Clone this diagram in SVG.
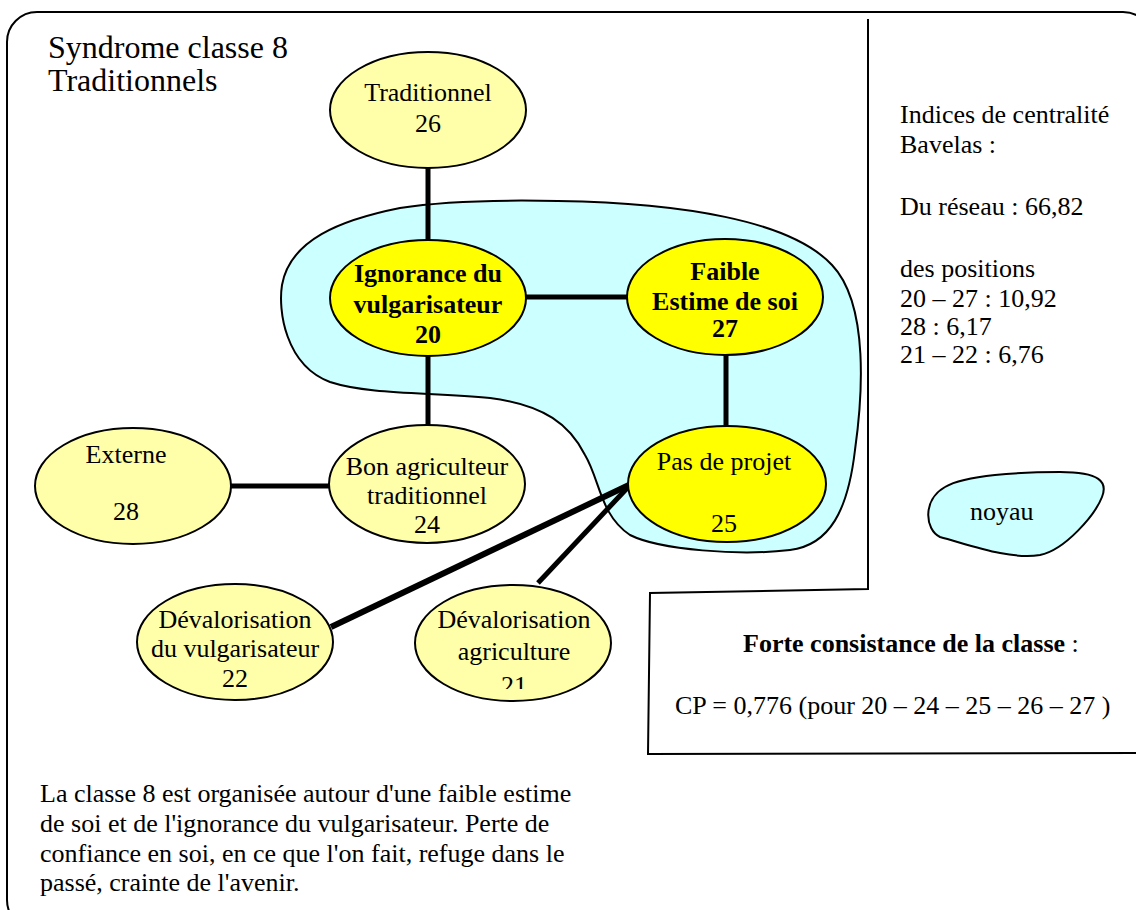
<svg xmlns="http://www.w3.org/2000/svg" width="1136" height="910" viewBox="0 0 1136 910">
<defs>
<style>
text{font-family:"Liberation Serif","Times New Roman",serif;font-size:26px;fill:#000}
.t{text-anchor:middle}
.b{font-weight:bold}
.pale{fill:#FFFFAA;stroke:#000;stroke-width:2}
.core{fill:#FFFF00;stroke:#000;stroke-width:2}
.edge{stroke:#000;stroke-width:5;fill:none}
.blob{fill:#CCFFFF;stroke:#000;stroke-width:2}
</style>
<clipPath id="clip21"><rect x="400" y="560" width="240" height="129"/></clipPath>
</defs>
<rect width="1136" height="910" fill="#fff"/>
<rect x="7" y="12" width="1146" height="918" rx="30" ry="30" fill="none" stroke="#000" stroke-width="2"/>
<polyline points="868,19 868,589 650,593 648,754 1140,753" fill="none" stroke="#000" stroke-width="2"/>

<g id="title">
<text x="48" y="58" style="font-size:32px">Syndrome classe 8</text>
<text x="48" y="91" style="font-size:32px">Traditionnels</text>
</g>

<g id="noyau-zone">
<path class="blob" d="M 558,201 C 680,203 790,220 832,265 C 870,305 862,400 855,450 C 848,510 830,545 790,550 C 740,556 660,550 630,535 C 600,515 600,480 585,455 C 570,425 545,405 490,398 C 430,392 370,395 330,382 C 285,365 278,310 282,285 C 290,240 340,220 400,208 C 450,200 510,200 558,201 Z"/>
</g>

<g id="connectors">
<line class="edge" x1="428" y1="168" x2="428" y2="240"/>
<line class="edge" x1="526" y1="297" x2="627" y2="297"/>
<line class="edge" x1="428" y1="356" x2="428" y2="426"/>
<line class="edge" x1="726" y1="355" x2="726" y2="426"/>
<line class="edge" x1="231" y1="486" x2="330" y2="486"/>
<line class="edge" x1="631" y1="484" x2="331" y2="627" style="stroke-width:6"/>
<line class="edge" x1="631" y1="484" x2="538" y2="583"/>
</g>

<g id="node26">
<ellipse class="pale" cx="428" cy="110" rx="98" ry="58"/>
<text class="t" x="428" y="101">Traditionnel</text>
<text class="t" x="428" y="132">26</text>
</g>
<g id="node20">
<ellipse class="core" cx="428" cy="298" rx="98" ry="58"/>
<text class="t b" x="428" y="282">Ignorance du</text>
<text class="t b" x="428" y="313">vulgarisateur</text>
<text class="t b" x="428" y="343">20</text>
</g>
<g id="node27">
<ellipse class="core" cx="725" cy="297" rx="98" ry="58"/>
<text class="t b" x="725" y="280">Faible</text>
<text class="t b" x="725" y="310">Estime de soi</text>
<text class="t b" x="725" y="337">27</text>
</g>
<g id="node25">
<ellipse class="core" cx="727" cy="484" rx="99" ry="58"/>
<text class="t" x="724" y="470">Pas de projet</text>
<text class="t" x="724" y="532">25</text>
</g>
<g id="node24">
<ellipse class="pale" cx="427" cy="484" rx="98" ry="59"/>
<text class="t" x="427" y="475">Bon agriculteur</text>
<text class="t" x="427" y="504">traditionnel</text>
<text class="t" x="427" y="533">24</text>
</g>
<g id="node28">
<ellipse class="pale" cx="133" cy="486" rx="98" ry="58"/>
<text class="t" x="126" y="463">Externe</text>
<text class="t" x="126" y="520">28</text>
</g>
<g id="node22">
<ellipse class="pale" cx="235" cy="642" rx="98" ry="58"/>
<text class="t" x="235" y="628">Dévalorisation</text>
<text class="t" x="235" y="657">du vulgarisateur</text>
<text class="t" x="235" y="687">22</text>
</g>
<g id="node21">
<ellipse class="pale" cx="513" cy="643" rx="98" ry="58"/>
<text class="t" x="514" y="628">Dévalorisation</text>
<text class="t" x="514" y="660">agriculture</text>
<text class="t" x="514" y="694" clip-path="url(#clip21)">21</text>
</g>

<g id="indices">
<text x="900" y="123">Indices de centralité</text>
<text x="900" y="153">Bavelas :</text>
<text x="900" y="215">Du réseau : 66,82</text>
<text x="900" y="277">des positions</text>
<text x="900" y="307">20 – 27 : 10,92</text>
<text x="900" y="335">28 : 6,17</text>
<text x="900" y="363">21 – 22 : 6,76</text>
</g>

<g id="legend">
<path class="blob" d="M 940,537 C 925,530 922,500 945,487 C 965,475 1020,472 1060,472 C 1100,472 1108,482 1102,497 C 1095,515 1065,550 1040,555 C 1010,560 970,545 940,537 Z"/>
<text x="970" y="520">noyau</text>
</g>

<g id="consistance">
<text x="743" y="652"><tspan class="b">Forte consistance de la classe</tspan> :</text>
<text x="675" y="714">CP = 0,776 (pour 20 – 24 – 25 – 26 – 27 )</text>
</g>

<g id="description">
<text x="40" y="802">La classe 8 est organisée autour d'une faible estime</text>
<text x="40" y="832">de soi et de l'ignorance du vulgarisateur. Perte de</text>
<text x="40" y="862">confiance en soi, en ce que l'on fait, refuge dans le</text>
<text x="40" y="891">passé, crainte de l'avenir.</text>
</g>
</svg>
